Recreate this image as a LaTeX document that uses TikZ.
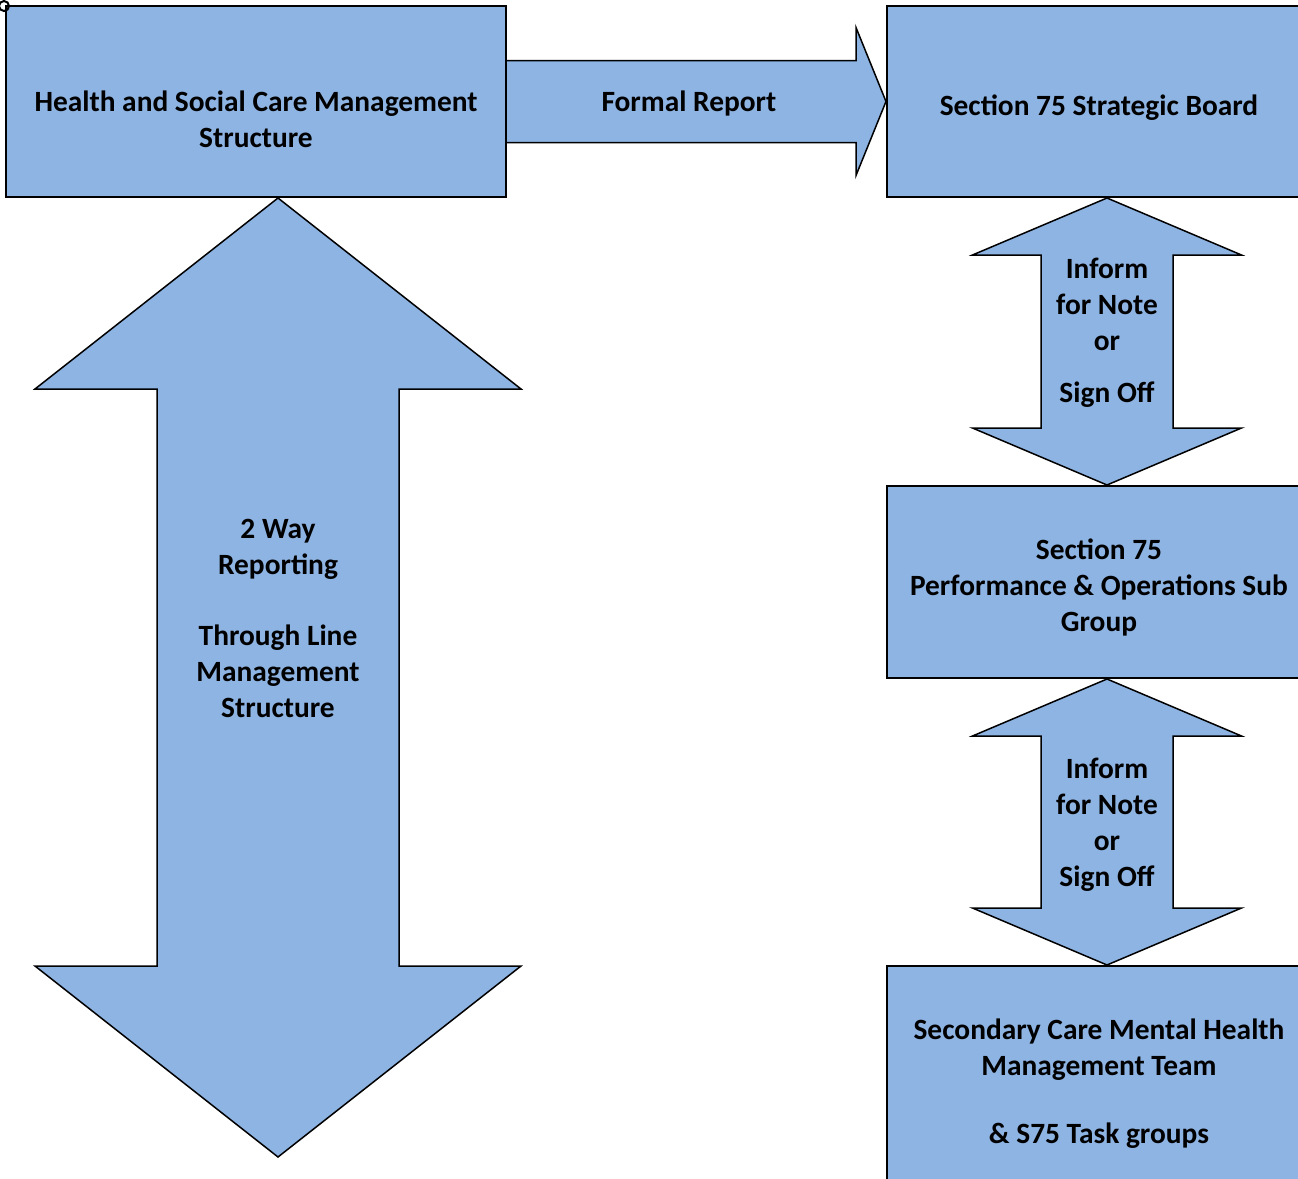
\documentclass[tikz,border=0pt]{standalone}
\usepackage{fontspec}
\setmainfont{Carlito}
\usepackage{tikz}
\usetikzlibrary{calc}
\usepackage{xcolor}
\definecolor{boxblue}{HTML}{8EB4E3}

\tikzset{
  box/.style={draw, line width=1pt, fill=boxblue, font=\bfseries\fontsize{14.7}{18}\selectfont, align=center, inner sep=0pt},
  blockarrow/.style={draw, line width=0.75pt, fill=boxblue, line join=miter},
  lbl/.style={font=\bfseries\fontsize{14.7}{18}\selectfont, align=center, inner sep=0pt}
}
\newcommand{\topstrut}[1]{\rule{0pt}{#1}}
% top tip, bottom tip, shaft half width, head half width, head length
\newcommand{\twowayarrow}[5]{%
  \draw[blockarrow] (#1) -- ($(#1)+(#4,#5)$) -- ($(#1)+(#3,#5)$) -- ($(#2)+(#3,-#5)$) -- ($(#2)+(#4,-#5)$) -- (#2) -- ($(#2)+(-#4,-#5)$) -- ($(#2)+(-#3,-#5)$) -- ($(#1)+(-#3,#5)$) -- ($(#1)+(-#4,#5)$) -- cycle;}

\begin{document}
\begin{tikzpicture}[x=0.5pt, y=-0.5pt]
\clip (0,0) rectangle (1298,1179);
% Management structure boxes
\node[box, minimum width=250pt, minimum height=95.5pt] (hscms) at (256,101.5) {\topstrut{28pt}Health and Social Care Management\\Structure};
\node[box, minimum width=212pt, minimum height=95.5pt] (board) at (1099,101.5) {\topstrut{16.2pt}Section 75 Strategic Board};
\node[box, minimum width=212pt, minimum height=96pt] (perfgroup) at (1099,582) {\topstrut{16.2pt}Section 75\\Performance \& Operations Sub\\Group};
\node[box, minimum width=212pt, minimum height=116pt] (mhteam) at (1099,1082) {\topstrut{12.2pt}Secondary Care Mental Health\\Management Team\\[16pt]\& S75 Task groups};

% Formal report arrow
\draw[blockarrow] ($(hscms.east)+(0,-41)$) -- ($(board.west)+(-30,-41)$) -- ($(board.west)+(-30,-74)$) -- (board.west) -- ($(board.west)+(-30,74)$) -- ($(board.west)+(-30,41)$) -- ($(hscms.east)+(0,41)$);
\node[lbl] (formal) at ($(hscms.east)!0.48!(board.west)+(0,2)$) {Formal Report};

% Inform / sign off arrows
\coordinate (t1) at ($(board.south)+(8,0)$);
\coordinate (b1) at ($(perfgroup.north)+(8,0)$);
\twowayarrow{t1}{b1}{66}{134.5}{57}
\node[lbl] (inform1) at ($(t1)!0.5!(b1)+(0,-9)$) {Inform\\for Note\\or\\[8pt]Sign Off};

\coordinate (t2) at ($(perfgroup.south)+(8,0)$);
\coordinate (b2) at ($(mhteam.north)+(8,0)$);
\twowayarrow{t2}{b2}{66}{134.5}{57}
\node[lbl] (inform2) at ($(t2)!0.5!(b2)+(0,3)$) {Inform\\for Note\\or\\Sign Off};

% 2 way reporting arrow
\coordinate (t3) at ($(hscms.south)+(22,0)$);
\coordinate (b3) at (278,1157);
\twowayarrow{t3}{b3}{121}{243}{191}
\node[lbl] (twoway) at ($(t3)!0.5!(b3)+(0,-59.5)$) {2 Way\\Reporting\\[17.5pt]Through Line\\Management\\Structure};

\draw[line width=1pt] (4,6) circle[radius=2.5pt];
\end{tikzpicture}
\end{document}
